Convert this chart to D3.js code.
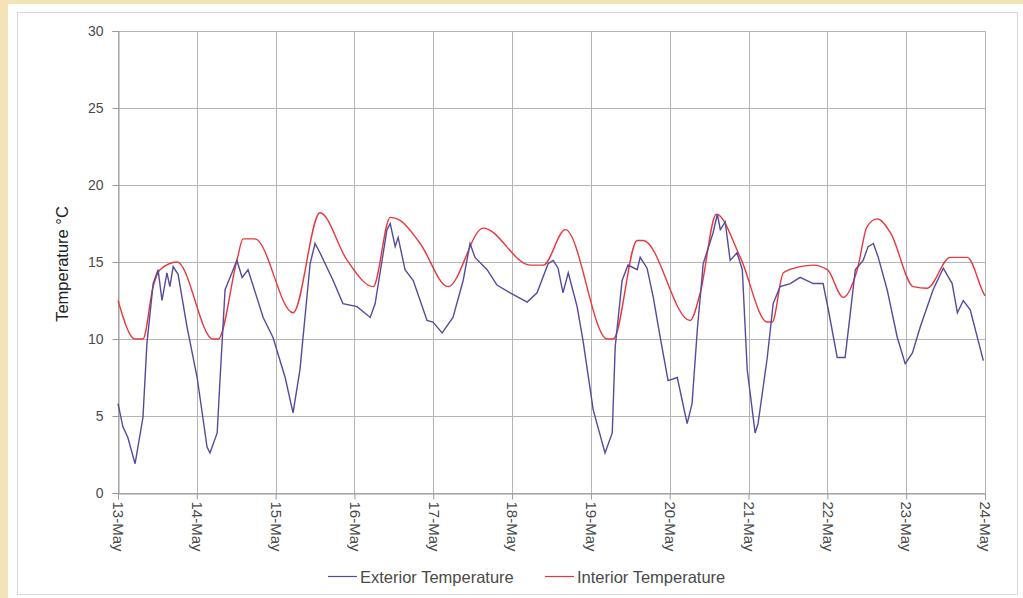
<!DOCTYPE html>
<html>
<head>
<meta charset="utf-8">
<script src="https://cdn.jsdelivr.net/npm/d3@7"></script>
<style>
  body { margin: 0; background: #f4e3b6; }
  svg { display: block; font-family: "Liberation Sans", Arial, sans-serif; }
</style>
</head>
<body>
<svg id="chart" width="1023" height="598"></svg>
<script>
// hours since 13-May 00:00
const extHours = [0, 1.5, 3, 5.2, 7.6, 8.8, 10.7, 12.2, 13.4, 14.9, 15.8, 16.8, 18.3, 21, 24.1, 27.1, 28, 30.2, 31.1, 32.6,
  34.7, 36.2, 37.8, 39.6, 44.2, 47.2, 50.9, 53.3, 55.4, 58.5, 60, 61.5, 65.5, 68.5, 72.8, 76.8, 78.3, 81.9, 82.9, 84.4,
  85.3, 87.4, 89.9, 94.1, 95.9, 98.7, 102, 105.1, 107.2, 108.7, 112.4, 115.4, 119.4, 124.6, 127.6, 131, 132.5, 134, 135.5, 137.1,
  139.8, 141.6, 144.7, 148.3, 150.5, 151.4, 153.5, 155.3, 158.1, 159, 161.1, 163, 165.1, 167.5, 170.3, 173.3, 174.8, 176.4, 178.2, 181.2,
  182.5, 183.4, 184.9, 186.4, 188.5, 190.1, 191.6, 194, 194.9, 197.7, 199.5, 201.6, 204.7, 207.7, 211.7, 214.7, 216.3, 219, 221.4, 223,
  224.5, 226.9, 228.4, 230, 231.5, 234.2, 237.3, 239.7, 241.9, 244.3, 248.2, 251.3, 254, 255.6, 257.4, 259.5, 263.5]
const extTemp = [5.8, 4.3, 3.6, 1.9, 4.9, 9.7, 13.6, 14.5, 12.5, 14.3, 13.4, 14.7, 14.2, 10.8, 7.5, 3.0, 2.6, 3.9, 7.5, 13.2,
  14.3, 15.1, 14.0, 14.5, 11.4, 10.1, 7.5, 5.2, 8.0, 14.9, 16.2, 15.6, 13.8, 12.3, 12.1, 11.4, 12.3, 17.1, 17.5, 16.0,
  16.6, 14.5, 13.8, 11.2, 11.1, 10.4, 11.4, 13.8, 16.2, 15.3, 14.5, 13.5, 13.0, 12.4, 13.0, 14.9, 15.1, 14.6, 13.0, 14.3,
  12.1, 9.9, 5.4, 2.6, 3.9, 9.5, 13.8, 14.8, 14.5, 15.3, 14.6, 12.7, 10.1, 7.3, 7.5, 4.5, 5.8, 10.6, 14.9, 16.9,
  18.1, 17.1, 17.6, 15.1, 15.6, 14.5, 8.0, 3.9, 4.5, 8.8, 12.3, 13.4, 13.6, 14.0, 13.6, 13.6, 11.9, 8.8, 8.8, 11.7,
  14.5, 15.1, 16.0, 16.2, 15.3, 13.2, 10.1, 8.4, 9.1, 10.8, 13.2, 14.6, 13.6, 11.7, 12.5, 11.9, 8.6]

const intHours = [0, 5.2, 7.6, 10.7, 12.8, 18, 28.9, 30.5, 36.2, 38.1, 41.7, 53.3, 61.5, 69.8, 77.7, 82.9, 85.9, 92, 100.5, 111.2,
  125.5, 129.5, 136.2, 149, 150.8, 158.1, 159.9, 174.2, 177.3, 182.2, 189.5, 197.7, 199.2, 202.6, 207.7, 211.7, 216, 220.8, 225.1, 228.1,
  231.2, 235.2, 242.2, 246.4, 253.4, 258.6, 263.5, 264]
const intTemp = [12.5, 10.0, 10.0, 13.4, 14.5, 15.0, 10.0, 10.0, 15.1, 16.5, 16.5, 11.7, 18.2, 15.1, 13.4, 17.9, 17.7, 16.2, 13.4, 17.2,
  14.8, 14.8, 17.1, 10.0, 10.0, 16.4, 16.4, 11.2, 13.0, 18.1, 15.3, 11.1, 11.1, 14.3, 14.7, 14.8, 14.5, 12.7, 14.5, 17.3,
  17.8, 16.9, 13.4, 13.3, 15.3, 15.3, 13.0, 12.8]

const yTicks = [0, 5, 10, 15, 20, 25, 30]
const seriesNames = ["Exterior Temperature", "Interior Temperature"]
const seriesColors = ["#574a9c", "#e8383d"]

const start = new Date(2009, 4, 13)
const toDate = h => new Date(start.getTime() + h * 3600e3)

const svg = d3.select("#chart")

// white panel with thin grey frame
svg.append("rect").attr("x", 8).attr("y", 4).attr("width", 1015).attr("height", 594).attr("fill", "white")
svg.append("rect").attr("x", 17.5).attr("y", 12.5).attr("width", 1000).attr("height", 582)
  .attr("fill", "none").attr("stroke", "#d8d8d8")

const plotLeft = 118, plotRight = 985, plotTop = 31, plotBottom = 493

const x = d3.scaleTime()
  .domain([start, toDate(264)])
  .range([plotLeft, plotRight])
const y = d3.scaleLinear()
  .domain([0, 30])
  .range([plotBottom, plotTop])

const days = d3.timeDay.range(start, toDate(265))

// grid
svg.append("g").selectAll("line")
  .data(yTicks)
  .enter().append("line")
  .attr("x1", plotLeft).attr("x2", plotRight)
  .attr("y1", d => Math.round(y(d)) + 0.5).attr("y2", d => Math.round(y(d)) + 0.5)
  .attr("stroke", "#b4b4b4")
svg.append("g").selectAll("line")
  .data(days)
  .enter().append("line")
  .attr("x1", d => Math.round(x(d)) + 0.5).attr("x2", d => Math.round(x(d)) + 0.5)
  .attr("y1", plotTop).attr("y2", plotBottom)
  .attr("stroke", "#b4b4b4")

// axes
const yAxis = svg.append("g")
  .attr("transform", "translate(" + (plotLeft + 0.5) + ",0)")
  .call(d3.axisLeft(y).tickValues(yTicks).tickSize(6).tickPadding(9))
yAxis.select(".domain").attr("stroke", "#999")
yAxis.selectAll(".tick line").attr("stroke", "#999")
yAxis.selectAll("text").attr("fill", "#4a4a4a").style("font-size", "14px")

const xAxis = svg.append("g")
  .attr("transform", "translate(0," + (plotBottom + 0.5) + ")")
  .call(d3.axisBottom(x).tickValues(days).tickFormat(d3.timeFormat("%d-%b")).tickSize(6))
xAxis.select(".domain").attr("stroke", "#999")
xAxis.selectAll(".tick line").attr("stroke", "#999")
xAxis.selectAll("text")
  .attr("fill", "#4a4a4a").style("font-size", "15px")
  .attr("transform", "rotate(90)")
  .attr("x", 8).attr("y", 0).attr("dy", "0.35em")
  .style("text-anchor", "start")

svg.append("text")
  .attr("transform", "translate(68,264) rotate(-90)")
  .attr("text-anchor", "middle")
  .style("font-size", "16.5px")
  .attr("fill", "#222")
  .text("Temperature °C")

// lines
const extLine = d3.line()
  .x(d => x(toDate(d[0])))
  .y(d => y(d[1]))
const intLine = d3.line()
  .curve(d3.curveMonotoneX)
  .x(d => x(toDate(d[0])))
  .y(d => y(d[1]))

const ext = extHours.map((h, i) => [h, extTemp[i]])
const int = intHours.map((h, i) => [h, intTemp[i]])

svg.append("path").datum(int)
  .attr("fill", "none").attr("stroke", seriesColors[1]).attr("stroke-width", 1.4)
  .attr("d", intLine)
svg.append("path").datum(ext)
  .attr("fill", "none").attr("stroke", seriesColors[0]).attr("stroke-width", 1.4)
  .attr("d", extLine)

// legend
const legend = svg.append("g")
const legendX = [328, 545]
seriesNames.forEach((name, i) => {
  legend.append("line")
    .attr("x1", legendX[i]).attr("x2", legendX[i] + 29)
    .attr("y1", 576.5).attr("y2", 576.5)
    .attr("stroke", seriesColors[i]).attr("stroke-width", 1.2)
  legend.append("text")
    .attr("x", legendX[i] + 32).attr("y", 577)
    .attr("dy", "0.35em")
    .style("font-size", "16.5px")
    .attr("fill", "#4a4a4a")
    .text(name)
})
</script>
</body>
</html>
